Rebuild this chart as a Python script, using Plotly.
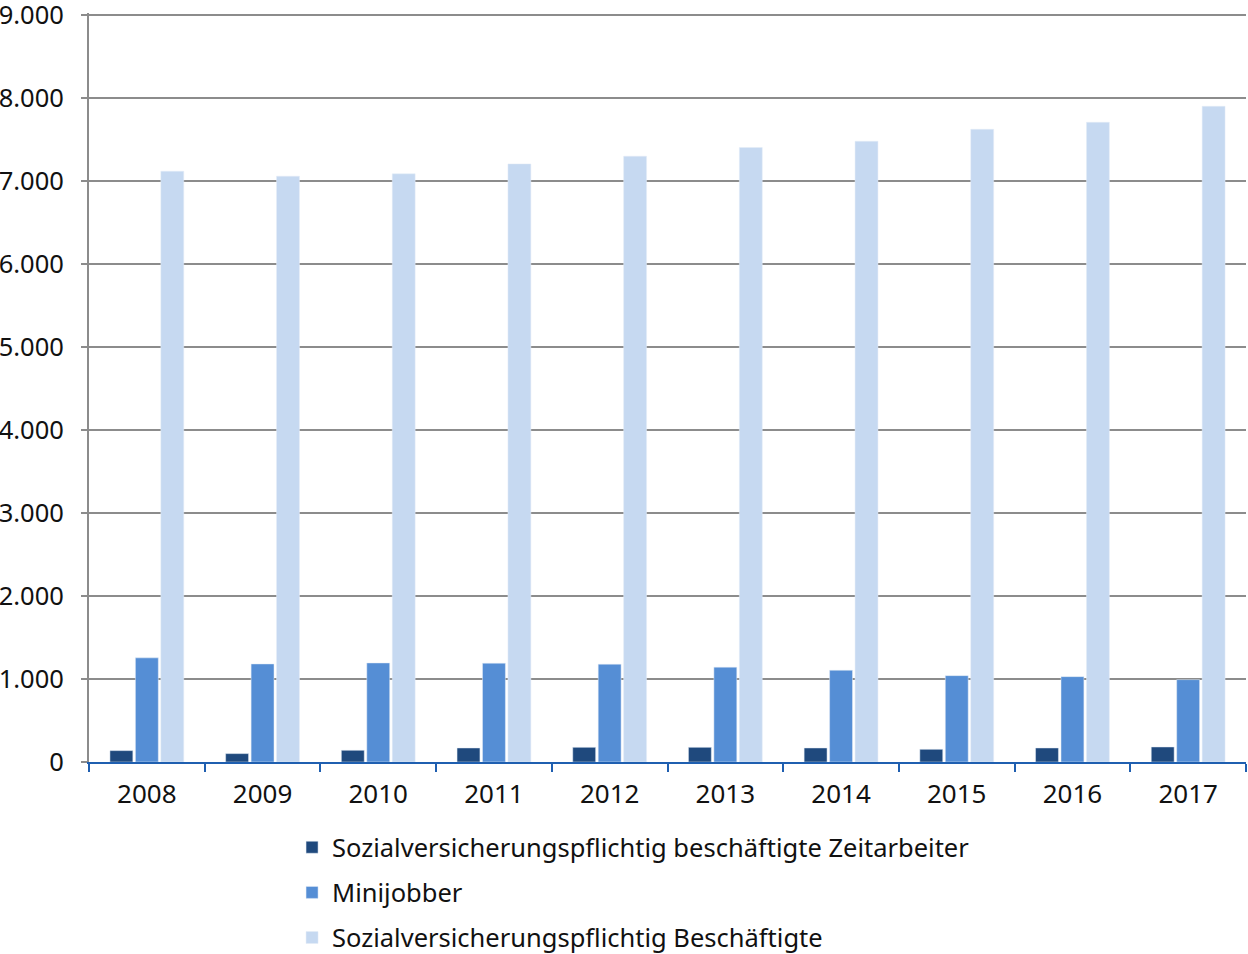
import plotly.graph_objects as go

years = ["2008", "2009", "2010", "2011", "2012", "2013", "2014", "2015", "2016", "2017"]
zeitarbeiter = [137, 101, 141, 169, 177, 177, 169, 153, 169, 181]
minijobber = [1254, 1181, 1193, 1190, 1178, 1142, 1105, 1040, 1028, 992]
beschaeftigte = [7115, 7055, 7083, 7203, 7296, 7400, 7476, 7620, 7704, 7897]

names = [
    "Sozialversicherungspflichtig beschäftigte Zeitarbeiter",
    "Minijobber",
    "Sozialversicherungspflichtig Beschäftigte",
]
colors = ["#1f497d", "#558ed5", "#c6d9f1"]
series = [zeitarbeiter, minijobber, beschaeftigte]

FONT = "Noto Sans"

fig = go.Figure()
for n, c, s in zip(names, colors, series):
    fig.add_trace(go.Bar(x=years, y=s, name=n, marker_color=c, legendgroup=n))

fig.update_layout(
    width=1248,
    height=954,
    margin=dict(l=89, r=2, t=13, b=192, autoexpand=False),
    paper_bgcolor="white",
    plot_bgcolor="white",
    separators=",.",
    barmode="group",
    bargap=0.34,
    bargroupgap=0.1,
    font=dict(family=FONT, size=26, color="#111111"),
    legend=dict(
        orientation="v",
        x=0.1755,
        xanchor="left",
        y=-0.083,
        yanchor="top",
        font=dict(family=FONT, size=25.5, color="#111111"),
        tracegroupgap=9,
        traceorder="grouped",
        itemwidth=30,
    ),
    showlegend=True,
)
fig.update_xaxes(
    automargin=False,
    showline=True,
    linecolor="#1f5fb0",
    linewidth=2,
    ticks="outside",
    tickson="boundaries",
    tickcolor="#1f5fb0",
    ticklen=8,
    tickwidth=2,
    showgrid=False,
    ticklabelstandoff=8,
    tickfont=dict(family=FONT, size=26, color="#111111"),
)
fig.update_yaxes(
    automargin=False,
    range=[0, 9020],
    tick0=0,
    dtick=1000,
    tickformat=",d",
    showline=True,
    linecolor="#8c8c8c",
    linewidth=2,
    ticks="outside",
    tickcolor="#8c8c8c",
    ticklen=6,
    tickwidth=2,
    showgrid=True,
    gridcolor="#8c8c8c",
    gridwidth=2,
    zeroline=False,
    ticklabelstandoff=12,
    ticklabeloverflow="allow",
    tickfont=dict(family=FONT, size=25.5, color="#111111"),
)

fig.write_html(
    "out.html",
    config={"displayModeBar": False},
    post_script="document.body.style.margin='0';document.body.style.overflow='hidden';",
)
